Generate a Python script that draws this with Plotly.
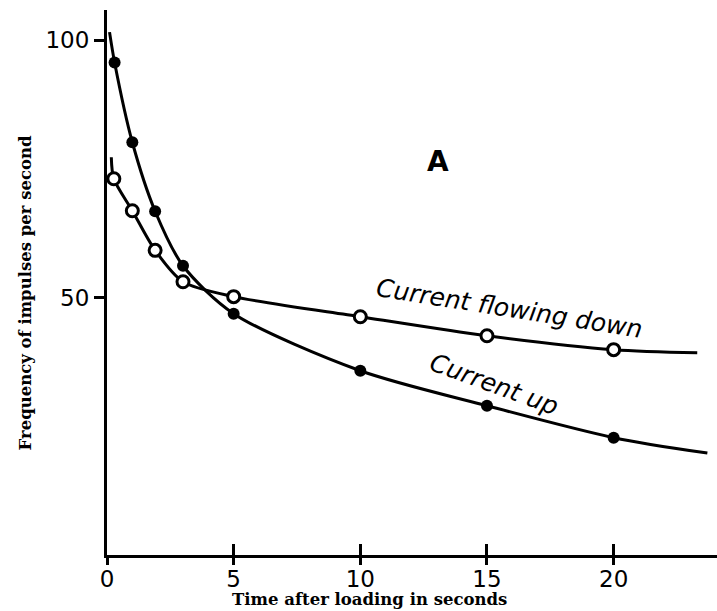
import plotly.graph_objects as go

up_x = [0.3, 1.0, 1.9, 3.0, 5, 10, 15, 20]
up_y = [95.7, 80.2, 66.8, 56.2, 46.9, 35.8, 29.0, 22.8]
down_x = [0.27, 1.0, 1.9, 3.0, 5, 10, 15, 20]
down_y = [73.1, 66.9, 59.2, 53.1, 50.2, 46.3, 42.6, 39.9]

# Hand-drawn curve vertices
up_curve_x = [0.1, 0.3, 1.0, 1.9, 3.0, 5, 10, 15, 20, 23.7]
up_curve_y = [101.6, 95.7, 80.2, 66.8, 56.2, 46.9, 35.8, 29.0, 22.8, 19.8]
down_curve_x = [0.17, 0.27, 1.0, 1.9, 3.0, 5, 10, 15, 20, 23.3]
down_curve_y = [77.3, 73.1, 66.9, 59.2, 53.1, 50.2, 46.3, 42.6, 39.9, 39.3]

x_ticks = [0, 5, 10, 15, 20]
x_marked_ticks = [5, 10, 15, 20]
y_ticks = [50, 100]

fig = go.Figure()
fig.add_trace(go.Scatter(x=up_curve_x, y=up_curve_y, mode="lines",
                         line=dict(color="black", width=3, shape="spline", smoothing=0.8),
                         hoverinfo="skip", showlegend=False))
fig.add_trace(go.Scatter(x=down_curve_x, y=down_curve_y, mode="lines",
                         line=dict(color="black", width=3, shape="spline", smoothing=0.8),
                         hoverinfo="skip", showlegend=False))
fig.add_trace(go.Scatter(x=up_x, y=up_y, mode="markers", name="Current up",
                         marker=dict(symbol="circle", size=12, color="black"),
                         showlegend=False))
fig.add_trace(go.Scatter(x=down_x, y=down_y, mode="markers", name="Current flowing down",
                         marker=dict(symbol="circle", size=12, color="white",
                                     line=dict(color="black", width=3)),
                         showlegend=False))
# invisible anchor for the overlay axis that carries the upper tick halves
fig.add_trace(go.Scatter(x=[1], y=[1], xaxis="x2", mode="markers",
                         marker=dict(opacity=0), hoverinfo="skip", showlegend=False))

tick_font = dict(family="DejaVu Sans", size=23, color="black")

fig.update_layout(
    width=717, height=611,
    margin=dict(l=107, r=0, t=10, b=56),
    paper_bgcolor="white", plot_bgcolor="white",
    xaxis=dict(range=[0, 24.08], tickmode="array", tickvals=x_ticks,
               ticktext=[str(v) for v in x_ticks],
               showgrid=False, zeroline=False, showline=True, linecolor="black", linewidth=3,
               ticks="outside", ticklen=7, tickwidth=3, tickcolor="black",
               tickfont=tick_font, ticklabelstandoff=-6),
    xaxis2=dict(range=[0, 24.08], overlaying="x", anchor="y", side="bottom",
                tickmode="array", tickvals=x_marked_ticks, ticktext=["", "", "", ""],
                showgrid=False, zeroline=False, showline=False,
                ticks="inside", ticklen=11, tickwidth=3, tickcolor="black"),
    yaxis=dict(range=[0, 105.9], tickvals=y_ticks, ticktext=[str(v) for v in y_ticks],
               showgrid=False, zeroline=False, showline=True, linecolor="black", linewidth=3,
               ticks="outside", ticklen=10, tickwidth=3, tickcolor="black",
               tickfont=tick_font, ticklabelstandoff=0),
    annotations=[
        dict(text="Time after loading in seconds", xref="paper", yref="paper",
             x=0.431, y=-0.081, showarrow=False, yanchor="middle",
             font=dict(family="DejaVu Serif", size=16.5, color="black", weight="bold")),
        dict(text="Frequency of impulses per second", xref="paper", yref="paper",
             x=-0.153, y=0.482, showarrow=False, textangle=-90,
             font=dict(family="DejaVu Serif", size=16.5, color="black", weight="bold")),
        dict(text="A", x=13.05, y=76.5, showarrow=False,
             font=dict(family="DejaVu Sans", size=28, color="black", weight="bold")),
        dict(text="Current flowing down", x=15.9, y=47.9, showarrow=False, textangle=9,
             font=dict(family="DejaVu Sans", size=25, color="black", style="italic")),
        dict(text="Current up", x=15.3, y=33.2, showarrow=False, textangle=20,
             font=dict(family="DejaVu Sans", size=25, color="black", style="italic")),
    ],
)

fig.write_html("out.html")
